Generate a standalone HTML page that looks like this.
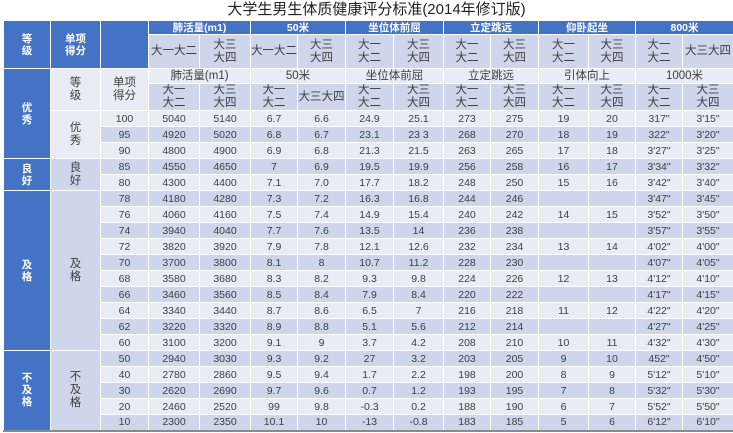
<!DOCTYPE html>
<html><head><meta charset="utf-8"><style>
html,body{margin:0;padding:0;background:#fff;width:733px;height:433px;overflow:hidden}
body{font-family:"Liberation Sans","Noto Sans CJK SC",sans-serif;color:#404040}
.title{position:absolute;left:0;top:0;width:733px;height:20px;text-align:center;font-size:15px;line-height:20px;color:#222;padding-left:20px;box-sizing:border-box}
table{position:absolute;left:3px;top:20px;border-collapse:collapse;table-layout:fixed;width:730px;border-bottom:2px solid #8a8a8a}
td{border:1px solid #fff;padding:0;text-align:center;font-size:10.5px;line-height:12px;overflow:hidden}
.b{background:#4472c4;color:#fff;font-weight:bold}
.d{background:#cfd5ea}
.l{background:#e9ebf5}
.h2{font-size:11.5px;line-height:13px}
tr.r{height:16px}
</style></head><body>
<div class="title">大学生男生体质健康评分标准(2014年修订版)</div>
<table>
<colgroup><col style="width:47px"><col style="width:50px"><col style="width:48px">
<col style="width:51px"><col style="width:51px"><col style="width:47px"><col style="width:48px"><col style="width:48px"><col style="width:50px"><col style="width:47px"><col style="width:48px"><col style="width:50px"><col style="width:47px"><col style="width:47px"><col style="width:51px"></colgroup>
<tr style="height:14px"><td class="b" rowspan="2">等<br>级</td><td class="b" rowspan="2">单项<br>得分</td><td class="b" rowspan="2"></td>
<td class="b" colspan="2">肺活量(m1)</td><td class="b" colspan="2">50米</td><td class="b" colspan="2">坐位体前屈</td><td class="b" colspan="2">立定跳远</td><td class="b" colspan="2">仰卧起坐</td><td class="b" colspan="2">800米</td></tr>
<tr style="height:34px" class="h2"><td class="d h2">大一大二</td><td class="d h2">大三<br>大四</td><td class="d h2">大一大二</td><td class="d h2">大三<br>大四</td><td class="d h2">大一<br>大二</td><td class="d h2">大三<br>大四</td><td class="d h2">大一<br>大二</td><td class="d h2">大三<br>大四</td><td class="d h2">大一<br>大二</td><td class="d h2">大三<br>大四</td><td class="d h2">大一<br>大二</td><td class="d h2">大三大四</td></tr>
<tr style="height:15px"><td class="b" rowspan="5">优<br>秀</td><td class="l h2" rowspan="2">等<br>级</td><td class="l h2" rowspan="2">单项<br>得分</td>
<td class="l h2" colspan="2">肺活量(m1)</td><td class="l h2" colspan="2">50米</td><td class="l h2" colspan="2">坐位体前屈</td><td class="l h2" colspan="2">立定跳远</td><td class="l h2" colspan="2">引体向上</td><td class="l h2" colspan="2">1000米</td></tr>
<tr style="height:24px"><td class="d h2">大一<br>大二</td><td class="d h2">大三<br>大四</td><td class="d h2">大一<br>大二</td><td class="d h2">大三大四</td><td class="d h2">大一<br>大二</td><td class="d h2">大三<br>大四</td><td class="d h2">大一<br>大二</td><td class="d h2">大三<br>大四</td><td class="d h2">大一<br>大二</td><td class="d h2">大三<br>大四</td><td class="d h2">大一<br>大二</td><td class="d h2">大三<br>大四</td></tr>
<tr class="r l"><td class="l h2" rowspan="3">优<br>秀</td><td>100</td><td>5040</td><td>5140</td><td>6.7</td><td>6.6</td><td>24.9</td><td>25.1</td><td>273</td><td>275</td><td>19</td><td>20</td><td>317"</td><td>3'15"</td></tr>
<tr class="r d"><td>95</td><td>4920</td><td>5020</td><td>6.8</td><td>6.7</td><td>23.1</td><td>23 3</td><td>268</td><td>270</td><td>18</td><td>19</td><td>322"</td><td>3'20"</td></tr>
<tr class="r l"><td>90</td><td>4800</td><td>4900</td><td>6.9</td><td>6.8</td><td>21.3</td><td>21.5</td><td>263</td><td>265</td><td>17</td><td>18</td><td>3'27"</td><td>3'25"</td></tr>
<tr class="r d"><td class="b" rowspan="2">良<br>好</td><td class="d h2" rowspan="2">良<br>好</td><td>85</td><td>4550</td><td>4650</td><td>7</td><td>6.9</td><td>19.5</td><td>19.9</td><td>256</td><td>258</td><td>16</td><td>17</td><td>3'34"</td><td>3'32"</td></tr>
<tr class="r l"><td>80</td><td>4300</td><td>4400</td><td>7.1</td><td>7.0</td><td>17.7</td><td>18.2</td><td>248</td><td>250</td><td>15</td><td>16</td><td>3'42"</td><td>3'40"</td></tr>
<tr class="r d"><td class="b" rowspan="10">及<br>格</td><td class="d h2" rowspan="10">及<br>格</td><td>78</td><td>4180</td><td>4280</td><td>7.3</td><td>7.2</td><td>16.3</td><td>16.8</td><td>244</td><td>246</td><td></td><td></td><td>3'47"</td><td>3'45"</td></tr>
<tr class="r l"><td>76</td><td>4060</td><td>4160</td><td>7.5</td><td>7.4</td><td>14.9</td><td>15.4</td><td>240</td><td>242</td><td>14</td><td>15</td><td>3'52"</td><td>3'50"</td></tr>
<tr class="r d"><td>74</td><td>3940</td><td>4040</td><td>7.7</td><td>7.6</td><td>13.5</td><td>14</td><td>236</td><td>238</td><td></td><td></td><td>3'57"</td><td>3'55"</td></tr>
<tr class="r l"><td>72</td><td>3820</td><td>3920</td><td>7.9</td><td>7.8</td><td>12.1</td><td>12.6</td><td>232</td><td>234</td><td>13</td><td>14</td><td>4'02"</td><td>4'00"</td></tr>
<tr class="r d"><td>70</td><td>3700</td><td>3800</td><td>8.1</td><td>8</td><td>10.7</td><td>11.2</td><td>228</td><td>230</td><td></td><td></td><td>4'07"</td><td>4'05"</td></tr>
<tr class="r l"><td>68</td><td>3580</td><td>3680</td><td>8.3</td><td>8.2</td><td>9.3</td><td>9.8</td><td>224</td><td>226</td><td>12</td><td>13</td><td>4'12"</td><td>4'10"</td></tr>
<tr class="r d"><td>66</td><td>3460</td><td>3560</td><td>8.5</td><td>8.4</td><td>7.9</td><td>8.4</td><td>220</td><td>222</td><td></td><td></td><td>4'17"</td><td>4'15"</td></tr>
<tr class="r l"><td>64</td><td>3340</td><td>3440</td><td>8.7</td><td>8.6</td><td>6.5</td><td>7</td><td>216</td><td>218</td><td>11</td><td>12</td><td>4'22"</td><td>4'20"</td></tr>
<tr class="r d"><td>62</td><td>3220</td><td>3320</td><td>8.9</td><td>8.8</td><td>5.1</td><td>5.6</td><td>212</td><td>214</td><td></td><td></td><td>4'27"</td><td>4'25"</td></tr>
<tr class="r l"><td>60</td><td>3100</td><td>3200</td><td>9.1</td><td>9</td><td>3.7</td><td>4.2</td><td>208</td><td>210</td><td>10</td><td>11</td><td>4'32"</td><td>4'30"</td></tr>
<tr class="r d"><td class="b" rowspan="5">不<br>及<br>格</td><td class="d h2" rowspan="5">不<br>及<br>格</td><td>50</td><td>2940</td><td>3030</td><td>9.3</td><td>9.2</td><td>27</td><td>3.2</td><td>203</td><td>205</td><td>9</td><td>10</td><td>452"</td><td>4'50"</td></tr>
<tr class="r l"><td>40</td><td>2780</td><td>2860</td><td>9.5</td><td>9.4</td><td>1.7</td><td>2.2</td><td>198</td><td>200</td><td>8</td><td>9</td><td>5'12"</td><td>5'10"</td></tr>
<tr class="r d"><td>30</td><td>2620</td><td>2690</td><td>9.7</td><td>9.6</td><td>0.7</td><td>1.2</td><td>193</td><td>195</td><td>7</td><td>8</td><td>5'32"</td><td>5'30"</td></tr>
<tr class="r l"><td>20</td><td>2460</td><td>2520</td><td>99</td><td>9.8</td><td>-0.3</td><td>0.2</td><td>188</td><td>190</td><td>6</td><td>7</td><td>5'52"</td><td>5'50"</td></tr>
<tr class="r d"><td>10</td><td>2300</td><td>2350</td><td>10.1</td><td>10</td><td>-13</td><td>-0.8</td><td>183</td><td>185</td><td>5</td><td>6</td><td>6'12"</td><td>6'10"</td></tr>
</table>
</body></html>
